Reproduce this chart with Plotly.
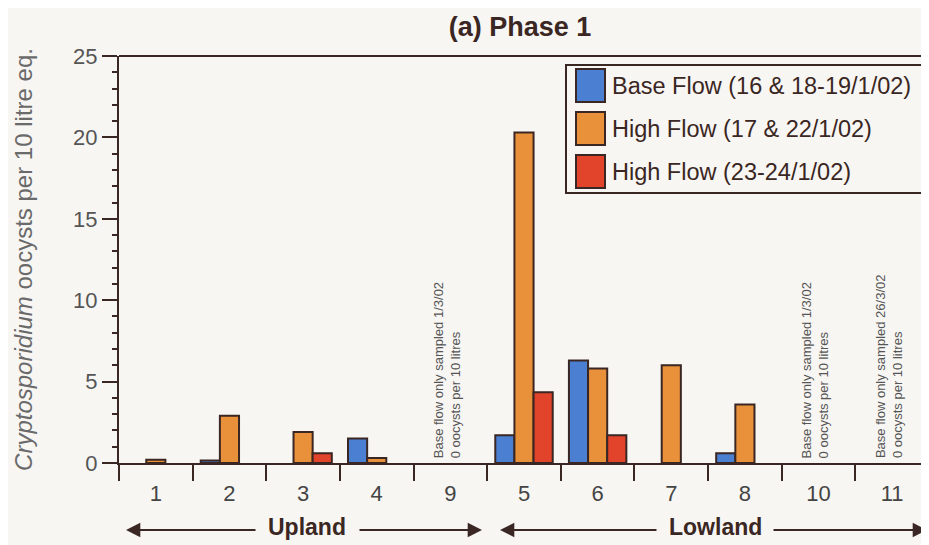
import plotly.graph_objects as go

sites = ["1", "2", "3", "4", "9", "5", "6", "7", "8", "10", "11"]
base_flow = [None, 0.15, None, 1.5, None, 1.7, 6.3, None, 0.6, None, None]
high_flow_a = [0.2, 2.9, 1.9, 0.3, None, 20.3, 5.8, 6.0, 3.6, None, None]
high_flow_b = [None, None, 0.6, None, None, 4.35, 1.7, None, None, None, None]

series_names = ["Base Flow (16 & 18-19/1/02)", "High Flow (17 & 22/1/02)", "High Flow (23-24/1/02)"]
colors = ["#4a7fd2", "#e9913a", "#e2432b"]

note_sites = ["9", "10", "11"]
note_texts = [
    "Base flow only sampled 1/3/02<br>0 oocysts per 10 litres",
    "Base flow only sampled 1/3/02<br>0 oocysts per 10 litres",
    "Base flow only sampled 26/3/02<br>0 oocysts per 10 litres",
]

outline = "#3a2622"
txt = "#3a2622"
bg = "#f8f6f3"
FONT = "Arial, Liberation Sans, sans-serif"

# page pixel -> paper coordinate helpers (page has 8px body margin)
PL, PW, PB, PH = 119, 810, 463, 407
def px(x):
    return (x - PL) / PW
def py(y):
    return (PB - y) / PH

fig = go.Figure()
for name, vals, col in zip(series_names, [base_flow, high_flow_a, high_flow_b], colors):
    fig.add_trace(go.Bar(
        x=sites, y=vals, name=name,
        marker=dict(color=col, line=dict(color=outline, width=2)),
    ))

for s, t in zip(note_sites, note_texts):
    fig.add_annotation(
        x=sites.index(s) - 0.05, y=0.15, xref="x", yref="y", text=t, showarrow=False,
        textangle=-90, xanchor="center", yanchor="bottom",
        font=dict(family=FONT, size=13, color="#555"),
        align="left",
    )

# top frame line (right border falls outside the picture in the reference)
fig.add_shape(type="line", xref="paper", yref="paper", x0=0, x1=1, y0=1, y1=1,
              line=dict(color=outline, width=2))

# manual legend with large swatches
fig.add_shape(type="rect", xref="paper", yref="paper",
              x0=px(566), x1=px(922), y0=py(193), y1=py(65),
              line=dict(color=outline, width=2), fillcolor=bg, layer="above")
sw_tops = [69, 112, 155]
for (name, col, top) in zip(series_names, colors, sw_tops):
    fig.add_shape(type="rect", xref="paper", yref="paper",
                  x0=px(576), x1=px(605), y0=py(top + 33), y1=py(top),
                  line=dict(color=outline, width=2), fillcolor=col, layer="above")
    fig.add_annotation(x=px(610), y=py(top + 17), xref="paper", yref="paper",
                       text=name, showarrow=False, xanchor="left", yanchor="middle",
                       font=dict(family=FONT, size=23.5, color=txt))

# Upland / Lowland labels with arrows
arrow_font = dict(family=FONT, size=23, color=txt)
fig.add_annotation(x=px(307), y=py(527), xref="paper", yref="paper", text="<b>Upland</b>",
                   showarrow=False, font=arrow_font, xanchor="center", yanchor="middle")
fig.add_annotation(x=px(715), y=py(527), xref="paper", yref="paper", text="<b>Lowland</b>",
                   showarrow=False, font=arrow_font, xanchor="center", yanchor="middle")
arrows = [(126, 257), (482, 358), (500, 658), (927, 772)]
for head, tail in arrows:
    fig.add_annotation(
        x=px(head), y=py(530), xref="paper", yref="paper",
        ax=tail - head, ay=0, axref="pixel", ayref="pixel",
        text="", showarrow=True, arrowhead=2, arrowsize=1.3, arrowwidth=2.2, arrowcolor=txt,
    )

fig.update_layout(
    width=921, height=537,
    margin=dict(l=111, r=0, t=48, b=82),
    paper_bgcolor=bg, plot_bgcolor=bg,
    barmode="group", bargap=0.22, bargroupgap=0,
    title=dict(text="<b>(a) Phase 1</b>", x=px(520), xref="paper", xanchor="center",
               y=1 - 19 / 537, yanchor="middle",
               font=dict(family=FONT, size=27, color=txt)),
    showlegend=False,
    font=dict(family=FONT),
)
fig.update_xaxes(
    type="category", categoryorder="array", categoryarray=sites,
    range=[-0.5, len(sites) - 0.5],
    tickson="boundaries", ticks="outside", ticklen=16, tickwidth=2, tickcolor=outline,
    ticklabelstandoff=10,
    showline=True, linecolor=outline, linewidth=2, mirror=False, showgrid=False,
    tickfont=dict(size=22, color="#444"),
)
fig.update_yaxes(
    range=[0, 25], dtick=5, ticks="outside", ticklen=15, tickwidth=1.5, tickcolor=outline,
    minor=dict(dtick=1, ticks="outside", ticklen=5, tickcolor=outline),
    showline=True, linecolor=outline, linewidth=2, mirror=False, showgrid=False, zeroline=False,
    tickfont=dict(size=22, color="#555"),
    title=dict(text="<i>Cryptosporidium</i> oocysts per 10 litre eq.", standoff=34,
               font=dict(family=FONT, size=24, color="#6a6a6a")),
)

fig.write_html("out.html")
